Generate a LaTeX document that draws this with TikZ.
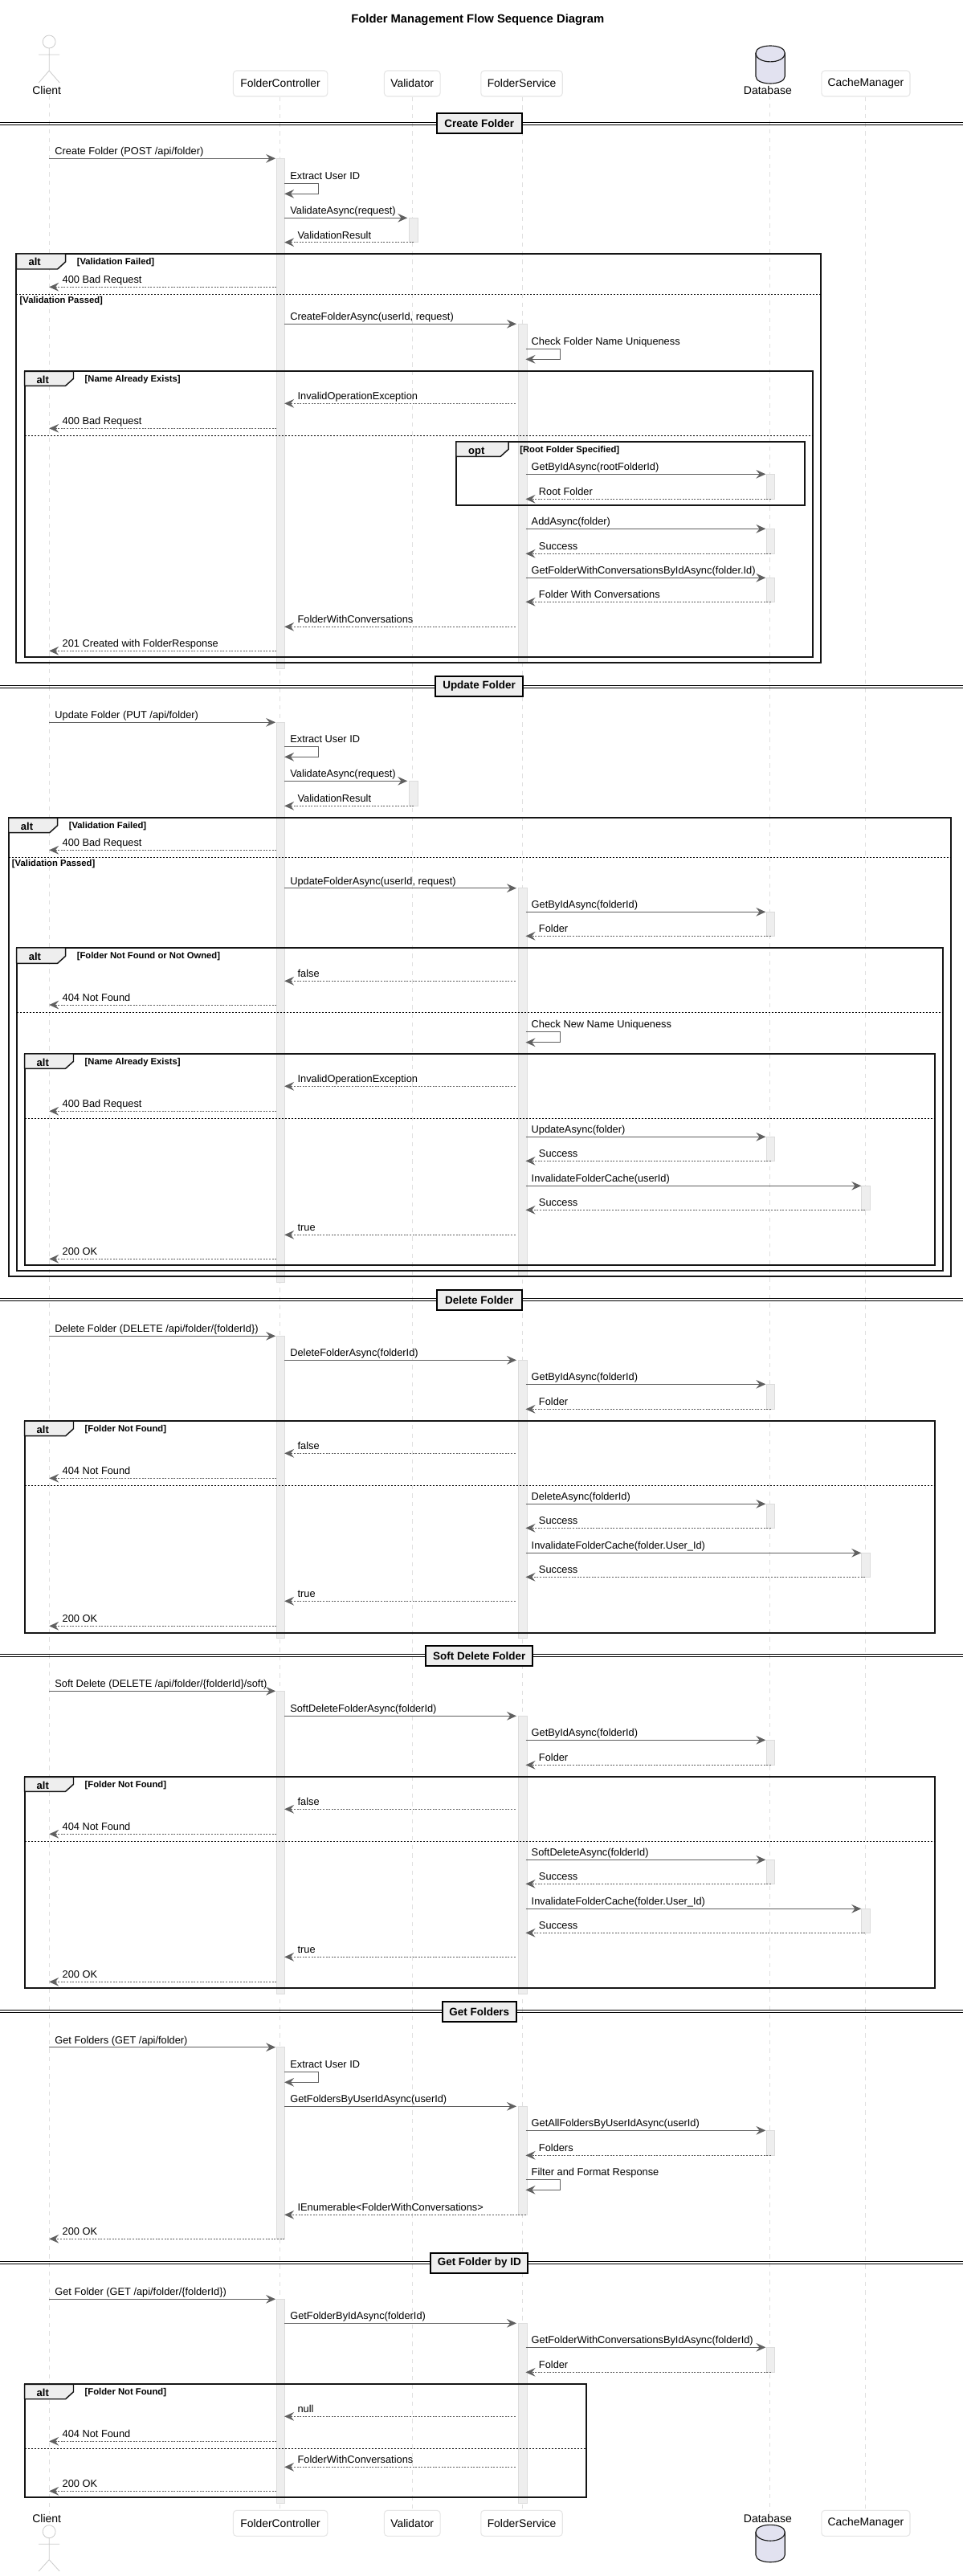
\documentclass[tikz,border=0pt]{standalone}
\usepackage{fontspec}
\setmainfont{Liberation Sans}
\usetikzlibrary{arrows.meta}
\definecolor{arrowgray}{HTML}{606060}
\definecolor{lifegray}{HTML}{E0E0E0}
\definecolor{partgray}{HTML}{E6E6E6}
\definecolor{barfill}{HTML}{EEEEEE}
\definecolor{barline}{HTML}{DCDCDC}
\definecolor{dbfill}{HTML}{E2E2F0}
\definecolor{framecol}{HTML}{151515}
\tikzset{
  x=0.746pt,y=-0.75pt,
  headtip/.tip={Stealth[length=9pt,width=8pt,inset=3.2pt,color=arrowgray]},
  call/.style={draw=arrowgray,line width=0.85pt,-{headtip}},
  ret/.style={draw=arrowgray,line width=0.75pt,dash pattern=on 1.5pt off 1.2pt,-{headtip}},
  lbl/.style={anchor=base west,inner sep=0pt,font=\fontsize{9.6pt}{11pt}\selectfont,text=black},
  life/.style={draw=lifegray,line width=0.75pt,dash pattern=on 4pt off 4pt},
  partbox/.style={draw=partgray,line width=0.8pt,fill=white,rounded corners=3pt,font=\fontsize{10.4pt}{12pt}\selectfont,inner sep=0pt},
  partlbl/.style={inner sep=0pt,font=\fontsize{10.5pt}{12pt}\selectfont},
  stick/.style={draw=lifegray!90!black,line width=0.6pt,fill=white},
  barbox/.style={draw=barline,line width=0.75pt,fill=barfill},
  frameline/.style={draw=framecol,line width=1.5pt},
  tabshape/.style={draw=framecol,line width=1.1pt,fill=barfill,line join=round},
  seplin/.style={draw=black,line width=0.75pt,dash pattern=on 1.5pt off 1.5pt},
  taglbl/.style={anchor=base west,inner sep=0pt,font=\bfseries\fontsize{9.75pt}{11pt}\selectfont},
  guardlbl/.style={anchor=base west,inner sep=0pt,font=\bfseries\fontsize{8.45pt}{10pt}\selectfont},
  divline/.style={draw=black,line width=0.8pt},
  divbox/.style={draw=black,line width=1.5pt,fill=barfill,inner sep=0pt,font=\bfseries\fontsize{10.1pt}{12pt}\selectfont},
}
\newcounter{msgno}
% call arrow: from port, to port, y, label
\newcommand\callmsg[4]{%
  \stepcounter{msgno}%
  \coordinate (s\themsgno) at (#1 |- 0,#3);
  \coordinate (t\themsgno) at (#2 |- 0,#3);
  \draw[call] (s\themsgno) -- (t\themsgno);
  \node[lbl] (l\themsgno) at ([shift={(7,-4.6)}]s\themsgno) {#4};
}
% return arrow: from port, to port, y, label
\newcommand\retmsg[4]{%
  \stepcounter{msgno}%
  \coordinate (s\themsgno) at (#1 |- 0,#3);
  \coordinate (t\themsgno) at (#2 |- 0,#3);
  \draw[ret] (s\themsgno) -- (t\themsgno);
  \node[lbl] (l\themsgno) at ([shift={(16.3,-4.6)}]t\themsgno) {#4};
}
% self arrow: port, top y, bottom y, label
\newcommand\selfmsg[4]{%
  \stepcounter{msgno}%
  \coordinate (s\themsgno) at (#1 |- 0,#2);
  \coordinate (t\themsgno) at (#1 |- 0,#3);
  \draw[call] (s\themsgno) -- ++(43,0) |- (t\themsgno);
  \node[lbl] (l\themsgno) at ([shift={(7,-5)}]s\themsgno) {#4};
}
% activation bar: lifeline name, y1, y2
\newcommand\actbar[3]{\draw[barbox] ([xshift=-3.2pt]#1 |- 0,#2) rectangle ([xshift=4.7pt]#1 |- 0,#3);}
% fragment: x1,y1,x2,y2,tab right,tab bottom,tag,guard
\newcommand\frag[8]{%
  \stepcounter{msgno}%
  \draw[frameline] (#1,#2) rectangle (#3,#4);
  \draw[tabshape] (#1,#2) -- (#5,#2) -- (#5,#6-9) -- (#5-10,#6) -- (#1,#6) -- cycle;
  \node[taglbl] (g\themsgno) at (#1+15,#2+15) {#7};
  \node[guardlbl] (h\themsgno) at (#5+14,#2+13.5) {#8};
}
% separator: x1,x2,y, optional guard
\newcommand\sep[4]{%
  \stepcounter{msgno}%
  \draw[seplin] (#1,#3) -- (#2,#3);
  \node[guardlbl] (h\themsgno) at (#1+4,#3+11.5) {#4};
}
% divider: y of the lines' centre, x1,y1,x2,y2, text
\newcommand\divider[6]{%
  \stepcounter{msgno}%
  \draw[divline] (0,#1-2.2) -- (1205.4,#1-2.2);
  \draw[divline] (0,#1+0.8) -- (1205.4,#1+0.8);
  \node[divbox,minimum width=(#4-#2)*0.746pt,minimum height=(#5-#3)*0.75pt] (d\themsgno) at ({(#2+#4)/2},{(#3+#5)/2}) {#6};
}
\begin{document}
\begin{tikzpicture}
\useasboundingbox (0,0) rectangle (1205.4,3207);
\fill[white] (0,0) rectangle (1205.4,3207);

\node[inner sep=0pt,font=\bfseries\fontsize{11.1pt}{13pt}\selectfont] (title) at (598,25) {Folder Management Flow Sequence Diagram};

% participants, top
\node[partbox,minimum width=88pt,minimum height=24pt] (fcT) at (351,104) {FolderController};
\node[partbox,minimum width=52.2pt,minimum height=24pt] (vaT) at (516,104) {Validator};
\node[partbox,minimum width=76.1pt,minimum height=24pt] (fsT) at (653,104) {FolderService};
\node[partbox,minimum width=82.6pt,minimum height=24pt] (cmT) at (1083.7,104) {CacheManager};
\node[partlbl] (clT) at (58.5,113) {Client};
\node[partlbl] (dbT) at (961,113) {Database};
% participants, bottom
\node[partbox,minimum width=88pt,minimum height=24pt] (fcB) at (351,3141.3) {FolderController};
\node[partbox,minimum width=52.2pt,minimum height=24pt] (vaB) at (516,3141.3) {Validator};
\node[partbox,minimum width=76.1pt,minimum height=24pt] (fsB) at (653,3141.3) {FolderService};
\node[partbox,minimum width=82.6pt,minimum height=24pt] (cmB) at (1083.7,3141.3) {CacheManager};
\node[partlbl] (clB) at (58.5,3135) {Client};
\node[partlbl] (dbB) at (961,3135) {Database};

% lifeline x positions
\coordinate (cl) at (61.5,0);
\coordinate (fc) at (350.5,0);
\coordinate (va) at (516.5,0);
\coordinate (fs) at (653.5,0);
\coordinate (db) at (963.5,0);
\coordinate (cm) at (1083,0);
% lifelines
\draw[life] (cl |- clT.south) -- (cl |- clB.north);
\draw[life] (fc |- fcT.south) -- (fc |- fcB.north);
\draw[life] (va |- vaT.south) -- (va |- vaB.north);
\draw[life] (fs |- fsT.south) -- (fs |- fsB.north);
\draw[life] (db |- dbT.south) -- (db |- dbB.north);
\draw[life] (cm |- cmT.south) -- (cm |- cmB.north);

% actor, top and bottom
\draw[stick] (61.5,52) circle[radius=8];
\draw[stick] (61.5,60) -- (61.5,88) (48.5,68) -- (74.6,68) (48.5,103) -- (61.5,88) -- (74.6,103);
\draw[stick] (61.5,3151.7) circle[radius=8];
\draw[stick] (61.5,3159.7) -- (61.5,3186.7) (48.5,3167.3) -- (74.6,3167.3) (48.5,3201) -- (61.5,3186.7) -- (74.6,3201);

% database, top and bottom
\draw[draw=black!90,line width=0.85pt,fill=dbfill] (946,66) .. controls (946,54) and (982.5,54) .. (982.5,66) -- (982.5,95) .. controls (982.5,107) and (946,107) .. (946,95) -- cycle;
\draw[draw=black!90,line width=0.85pt] (946,66) .. controls (946,80.5) and (982.5,80.5) .. (982.5,66);
\draw[draw=black!90,line width=0.85pt,fill=dbfill] (946,3152.3) .. controls (946,3140.3) and (982.5,3140.3) .. (982.5,3152.3) -- (982.5,3180.7) .. controls (982.5,3192.7) and (946,3192.7) .. (946,3180.7) -- cycle;
\draw[draw=black!90,line width=0.85pt] (946,3152.3) .. controls (946,3166.8) and (982.5,3166.8) .. (982.5,3152.3);

% arrow ports
\coordinate (clP) at (61.5,0);
\coordinate (fcL) at (345,0);
\coordinate (fcR) at (356,0);
\coordinate (fcS) at (346,0);
\coordinate (vaL) at (510,0);
\coordinate (vaS) at (518,0);
\coordinate (fsL) at (646.5,0);
\coordinate (fsR) at (658,0);
\coordinate (fsS) at (645,0);
\coordinate (dbL) at (958.5,0);
\coordinate (dbS) at (965,0);
\coordinate (cmL) at (1078,0);
\coordinate (cmS) at (1083,0);

% activation bars
\actbar{fc}{197.3}{832.7}
\actbar{va}{271.3}{301.7}
\actbar{fs}{403.3}{825}
\actbar{db}{590.3}{621.3}
\actbar{db}{658.3}{689.3}
\actbar{db}{719.3}{749.3}
\actbar{fc}{899.3}{1596.7}
\actbar{va}{972.3}{1003.3}
\actbar{fs}{1105.7}{1588.3}
\actbar{db}{1135.3}{1165.3}
\actbar{db}{1415.3}{1445.3}
\actbar{cm}{1476.3}{1506.3}
\actbar{fc}{1663.3}{2039.3}
\actbar{fs}{1693.3}{2039.3}
\actbar{db}{1723.3}{1754.3}
\actbar{db}{1872.3}{1902.3}
\actbar{cm}{1933.3}{1963.3}
\actbar{fc}{2105.3}{2482.3}
\actbar{fs}{2136.3}{2482.3}
\actbar{db}{2166.3}{2197.3}
\actbar{db}{2315.3}{2345.3}
\actbar{cm}{2376.3}{2406.3}
\actbar{fc}{2548.7}{2787.3}
\actbar{fs}{2622.3}{2757.3}
\actbar{db}{2652.3}{2683.3}
\actbar{fc}{2862.3}{3116.3}
\actbar{fs}{2892.3}{3116.3}
\actbar{db}{2922.3}{2953.3}

% ===== Create Folder =====
\divider{154.7}{546.5}{141}{653.5}{166}{Create Folder}
\callmsg{clP}{fcL}{197.3}{Create Folder (POST /api/folder)}
\selfmsg{fcR}{228.3}{241.3}{Extract User ID}
\callmsg{fcR}{vaL}{271.3}{ValidateAsync(request)}
\retmsg{vaS}{fcR}{301.7}{ValidationResult}
\frag{20.5}{316}{1027.6}{825.3}{82}{335}{alt}{[Validation Failed]}
\retmsg{fcS}{clP}{357.3}{400 Bad Request}
\sep{20.5}{1027.6}{366.3}{[Validation Passed]}
\callmsg{fcR}{fsL}{403.3}{CreateFolderAsync(userId, request)}
\selfmsg{fsR}{434.3}{447.3}{Check Folder Name Uniqueness}
\frag{30.7}{462.3}{1017.7}{818.3}{92}{480.3}{alt}{[Name Already Exists]}
\retmsg{fsS}{fcR}{502.3}{InvalidOperationException}
\retmsg{fcS}{clP}{533.3}{400 Bad Request}
\sep{30.7}{1017.7}{542.3}{}
\frag{571}{550}{1007.7}{629.3}{636.5}{568.3}{opt}{[Root Folder Specified]}
\callmsg{fsR}{dbL}{590.3}{GetByIdAsync(rootFolderId)}
\retmsg{dbS}{fsR}{621.3}{Root Folder}
\callmsg{fsR}{dbL}{658.3}{AddAsync(folder)}
\retmsg{dbS}{fsR}{689.3}{Success}
\callmsg{fsR}{dbL}{719.3}{GetFolderWithConversationsByIdAsync(folder.Id)}
\retmsg{dbS}{fsR}{749.3}{Folder With Conversations}
\retmsg{fsS}{fcR}{780.3}{FolderWithConversations}
\retmsg{fcS}{clP}{810.3}{201 Created with FolderResponse}

% ===== Update Folder =====
\divider{855.3}{545}{842}{654.5}{866.7}{Update Folder}
\callmsg{clP}{fcL}{899.3}{Update Folder (PUT /api/folder)}
\selfmsg{fcR}{929.3}{942.3}{Extract User ID}
\callmsg{fcR}{vaL}{972.3}{ValidateAsync(request)}
\retmsg{vaS}{fcR}{1003.3}{ValidationResult}
\frag{10.8}{1018.3}{1190}{1589.3}{72}{1036.7}{alt}{[Validation Failed]}
\retmsg{fcS}{clP}{1058.3}{400 Bad Request}
\sep{10.8}{1190}{1067.3}{[Validation Passed]}
\callmsg{fcR}{fsL}{1105.7}{UpdateFolderAsync(userId, request)}
\callmsg{fsR}{dbL}{1135.3}{GetByIdAsync(folderId)}
\retmsg{dbS}{fsR}{1165.3}{Folder}
\frag{20.8}{1180}{1180}{1582.3}{82}{1199.3}{alt}{[Folder Not Found or Not Owned]}
\retmsg{fsS}{fcR}{1221.3}{false}
\retmsg{fcS}{clP}{1251}{404 Not Found}
\sep{20.8}{1180}{1260.3}{}
\selfmsg{fsR}{1284.3}{1297.7}{Check New Name Uniqueness}
\frag{30.7}{1312}{1170}{1575.3}{92}{1330.3}{alt}{[Name Already Exists]}
\retmsg{fsS}{fcR}{1352.3}{InvalidOperationException}
\retmsg{fcS}{clP}{1383.3}{400 Bad Request}
\sep{30.7}{1170}{1392.3}{}
\callmsg{fsR}{dbL}{1415.3}{UpdateAsync(folder)}
\retmsg{dbS}{fsR}{1445.3}{Success}
\callmsg{fsR}{cmL}{1476.3}{InvalidateFolderCache(userId)}
\retmsg{cmS}{fsR}{1506.3}{Success}
\retmsg{fsS}{fcR}{1537.3}{true}
\retmsg{fcS}{clP}{1567.3}{200 OK}

% ===== Delete Folder =====
\divider{1618.7}{546.5}{1606}{653.5}{1631}{Delete Folder}
\callmsg{clP}{fcL}{1663.3}{Delete Folder (DELETE /api/folder/\{folderId\})}
\callmsg{fcR}{fsL}{1693.3}{DeleteFolderAsync(folderId)}
\callmsg{fsR}{dbL}{1723.3}{GetByIdAsync(folderId)}
\retmsg{dbS}{fsR}{1754.3}{Folder}
\frag{30.7}{1769}{1170}{2032.7}{92}{1787.7}{alt}{[Folder Not Found]}
\retmsg{fsS}{fcR}{1809.3}{false}
\retmsg{fcS}{clP}{1840.3}{404 Not Found}
\sep{30.7}{1170}{1849.3}{}
\callmsg{fsR}{dbL}{1872.3}{DeleteAsync(folderId)}
\retmsg{dbS}{fsR}{1902.3}{Success}
\callmsg{fsR}{cmL}{1933.3}{InvalidateFolderCache(folder.User\_Id)}
\retmsg{cmS}{fsR}{1963.3}{Success}
\retmsg{fsS}{fcR}{1993.3}{true}
\retmsg{fcS}{clP}{2024.3}{200 OK}

% ===== Soft Delete Folder =====
\divider{2061.3}{533}{2048.7}{667}{2074}{Soft Delete Folder}
\callmsg{clP}{fcL}{2105.3}{Soft Delete (DELETE /api/folder/\{folderId\}/soft)}
\callmsg{fcR}{fsL}{2136.3}{SoftDeleteFolderAsync(folderId)}
\callmsg{fsR}{dbL}{2166.3}{GetByIdAsync(folderId)}
\retmsg{dbS}{fsR}{2197.3}{Folder}
\frag{30.7}{2212.3}{1170}{2475.3}{92}{2230.3}{alt}{[Folder Not Found]}
\retmsg{fsS}{fcR}{2252.3}{false}
\retmsg{fcS}{clP}{2283.3}{404 Not Found}
\sep{30.7}{1170}{2292.3}{}
\callmsg{fsR}{dbL}{2315.3}{SoftDeleteAsync(folderId)}
\retmsg{dbS}{fsR}{2345.3}{Success}
\callmsg{fsR}{cmL}{2376.3}{InvalidateFolderCache(folder.User\_Id)}
\retmsg{cmS}{fsR}{2406.3}{Success}
\retmsg{fsS}{fcR}{2436.3}{true}
\retmsg{fcS}{clP}{2467.3}{200 OK}

% ===== Get Folders =====
\divider{2504.3}{554}{2491.7}{646}{2517}{Get Folders}
\callmsg{clP}{fcL}{2548.7}{Get Folders (GET /api/folder)}
\selfmsg{fcR}{2579.3}{2592.3}{Extract User ID}
\callmsg{fcR}{fsL}{2622.3}{GetFoldersByUserIdAsync(userId)}
\callmsg{fsR}{dbL}{2652.3}{GetAllFoldersByUserIdAsync(userId)}
\retmsg{dbS}{fsR}{2683.3}{Folders}
\selfmsg{fsR}{2713.3}{2726.3}{Filter and Format Response}
\retmsg{fsR}{fcR}{2757.3}{IEnumerable<FolderWithConversations>}
\retmsg{fcR}{clP}{2787.3}{200 OK}

% ===== Get Folder by ID =====
\divider{2817.3}{539}{2804.7}{661}{2830}{Get Folder by ID}
\callmsg{clP}{fcL}{2862.3}{Get Folder (GET /api/folder/\{folderId\})}
\callmsg{fcR}{fsL}{2892.3}{GetFolderByIdAsync(folderId)}
\callmsg{fsR}{dbL}{2922.3}{GetFolderWithConversationsByIdAsync(folderId)}
\retmsg{dbS}{fsR}{2953.3}{Folder}
\frag{30.7}{2968.3}{734}{3109.3}{92}{2986.7}{alt}{[Folder Not Found]}
\retmsg{fsS}{fcR}{3008.3}{null}
\retmsg{fcS}{clP}{3039.3}{404 Not Found}
\sep{30.7}{734}{3048.3}{}
\retmsg{fsS}{fcR}{3071.3}{FolderWithConversations}
\retmsg{fcS}{clP}{3101.3}{200 OK}
\end{tikzpicture}
\end{document}
